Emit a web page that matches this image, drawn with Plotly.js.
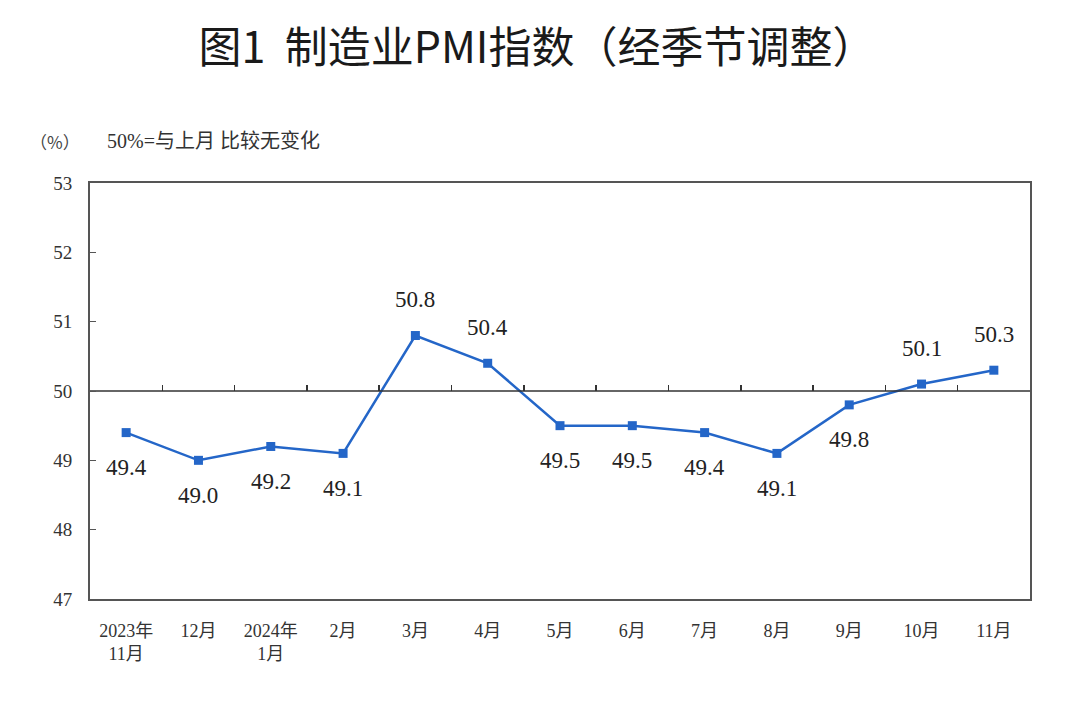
<!DOCTYPE html>
<html><head><meta charset="utf-8">
<script src="https://cdn.plot.ly/plotly-3.0.1.min.js"></script>
<style>html,body{margin:0;padding:0;background:#fff;}#chart{width:1074px;height:712px;}</style>
</head><body><div id="chart"></div>
<script>
const categories = ["2023年<br>11月","12月","2024年<br>1月","2月","3月","4月","5月","6月","7月","8月","9月","10月","11月"];
const pmi = [49.4, 49.0, 49.2, 49.1, 50.8, 50.4, 49.5, 49.5, 49.4, 49.1, 49.8, 50.1, 50.3];
const labelAbove = [false,false,false,false,true,true,false,false,false,false,false,true,true];
const yTicks = [47,48,49,50,51,52,53];

const idx = categories.map((_, i) => i);
const serif = "Liberation Serif, Noto Sans CJK SC, serif";

const trace = {
  x: idx, y: pmi, type: "scatter", mode: "lines+markers",
  line: {color: "#2466c8", width: 2.5},
  marker: {symbol: "square", size: 9, color: "#2466c8"},
  hoverinfo: "skip", showlegend: false
};
const axisTrace = {x: [-0.5, 12.5], y: [50, 50], xaxis: "x2", yaxis: "y", type: "scatter", mode: "lines",
  line: {color: "#333", width: 1.5}, hoverinfo: "skip", showlegend: false};

const annotations = pmi.map((v, i) => ({
  x: i, y: v, xref: "x", yref: "y", text: v.toFixed(1), showarrow: false,
  yshift: labelAbove[i] ? 36 : -35,
  font: {family: serif, size: 23, color: "#222"}
}));
annotations.push({xref: "paper", yref: "paper", x: -0.008, y: 1.1, xanchor: "right", yanchor: "middle",
  text: "（%）", showarrow: false, font: {family: "Noto Sans CJK SC", size: 17, color: "#444"}});
annotations.push({xref: "paper", yref: "paper", x: 0.016, y: 1.1, xanchor: "left", yanchor: "middle",
  text: "50%=与上月 比较无变化", showarrow: false, font: {family: serif, size: 20, color: "#333"}});

const layout = {
  width: 1074, height: 712,
  margin: {l: 90, r: 44, t: 183, b: 113},
  paper_bgcolor: "#fff", plot_bgcolor: "#fff",
  title: {text: "图1  制造业PMI指数（经季节调整）", x: 0.5, xanchor: "center", y: 0.933, yanchor: "middle",
    font: {family: "Noto Sans CJK SC", size: 43, weight: "normal", color: "#1a1a1a"}},
  xaxis: {range: [-0.5, 12.5], tickmode: "array", tickvals: idx, ticktext: categories,
    showgrid: false, zeroline: false, showline: true, mirror: true, linecolor: "#555", linewidth: 2,
    ticks: "", ticklabelstandoff: 14, tickfont: {family: serif, size: 18, color: "#333"}, fixedrange: true},
  xaxis2: {range: [-0.5, 12.5], overlaying: "x", anchor: "free", position: 0.5, side: "top",
    showline: false, showgrid: false, zeroline: false, ticks: "outside", ticklen: 6, tickwidth: 1.5, tickcolor: "#333",
    tickmode: "array", tickvals: [0.5,1.5,2.5,3.5,4.5,5.5,6.5,7.5,8.5,9.5,10.5,11.5], showticklabels: false},
  yaxis: {range: [47, 53], tickmode: "array", tickvals: yTicks, ticktext: yTicks.map(String),
    showgrid: false, zeroline: false, showline: true, mirror: true, linecolor: "#555", linewidth: 2,
    ticks: "inside", ticklen: 6, tickcolor: "#555", ticklabelstandoff: 12,
    tickfont: {family: serif, size: 19, color: "#333"}, fixedrange: true},
  annotations: annotations
};

Plotly.newPlot("chart", [axisTrace, trace], layout, {staticPlot: true});
</script></body></html>
